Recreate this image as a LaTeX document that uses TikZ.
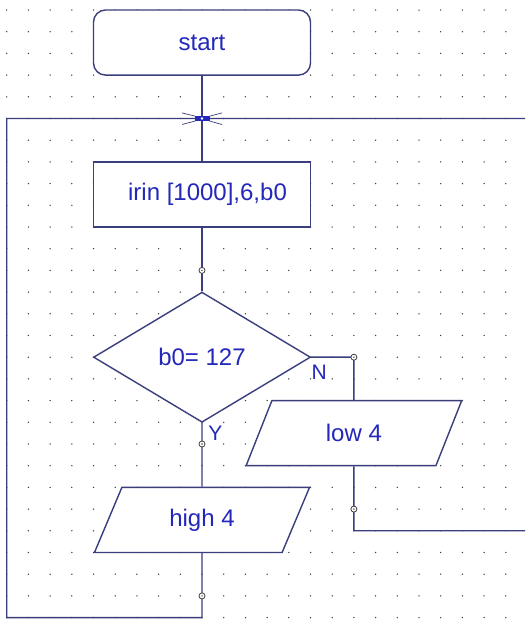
\documentclass[tikz,border=0pt]{standalone}
\usepackage{fontspec}
\setmainfont{Liberation Sans}
\usetikzlibrary{shapes.geometric}

\definecolor{flowline}{RGB}{58,62,124}
\definecolor{flowtext}{RGB}{36,40,185}
\definecolor{griddot}{RGB}{60,60,60}

\tikzset{
  flowshape/.style={draw=flowline,fill=white,line width=1.4pt,text=flowtext,
    inner sep=0pt,font=\fontsize{24}{28}\selectfont},
  startbox/.style={flowshape,rectangle,rounded corners=12pt,
    minimum width=217pt,minimum height=65.1pt},
  procbox/.style={flowshape,rectangle,minimum width=217pt,minimum height=65.1pt},
  testbox/.style={flowshape,diamond,minimum width=217pt,minimum height=130.2pt},
  iobox/.style={flowshape,trapezium,trapezium stretches=true,
    trapezium left angle=63.43,trapezium right angle=116.57,
    minimum width=217pt,minimum height=65.1pt},
  joint/.style={circle,draw=black!75,fill=white,line width=0.8pt,
    minimum size=6pt,inner sep=0pt},
  branch/.style={text=flowtext,inner sep=0pt,font=\fontsize{21}{24}\selectfont},
  flow/.style={draw=flowline,line width=1.4pt},
}

\begin{document}
\begin{tikzpicture}[%
  x=21.7pt,
  y=-21.7pt,
  % grid step 21.7pt, y downwards
]

  \useasboundingbox[fill=white] (-0.309,-0.461) rectangle (23.885,28.065);

  % dot grid
  \foreach \i in {0,...,23}
    \foreach \j in {0,...,28}
      \fill[griddot] (\i,\j) circle (0.75pt);

  \coordinate (junc) at (9,5);
  \coordinate (toprt) at (23.885,5);
  \coordinate (toplt) at (0,5);
  \coordinate (botlt) at (0,28);
  \coordinate (botmid) at (9,28);
  \coordinate (nturn) at (16,16);
  \coordinate (lowend) at (16,24);
  \coordinate (rtend) at (23.885,24);

  \node[startbox] (start) at (9,1.5) {start};
  \node[procbox] (irin) at (9,8.5) {\hspace*{11pt}irin [1000],6,b0};
  \node[testbox] (test) at (9,16) {b0= 127};
  \node[iobox] (low) at (16,19.5) {low 4};
  \node[iobox] (high) at (9,23.5) {high 4};

  \draw[flow] (start.south) -- (irin.north);
  \draw[flow] (irin.south) -- (test.north);
  \draw[flow] (test.east) -- (nturn) -- (low.north);
  \draw[flow] (low.south) -- (lowend) -- (rtend);
  \draw[flow] (test.south) -- (high.north);
  \draw[flow] (high.south) -- (botmid) -- (botlt) -- (toplt) -- (toprt);

  \node[branch] (nlab) at (14.4,16.7) {N};
  \node[branch] (ylab) at (9.62,19.5) {Y};

  \node[joint] (j1) at (9,12) {};
  \node[joint] (j2) at (nturn) {};
  \node[joint] (j3) at (9,20) {};
  \node[joint] (j4) at (16,23) {};
  \node[joint] (j5) at (9,27) {};
  \foreach \p in {j1,j2,j3,j4,j5}
    \fill[black!75] (\p) circle (0.8pt);

  % crossing mark
  \begin{scope}[shift={(junc)}]
    \draw[flowline,line width=0.7pt] (-20pt,5.6pt) -- (-6.7pt,2.3pt);
    \draw[flowline,line width=0.7pt] (-20pt,-6pt) -- (-6.7pt,-2.5pt);
    \draw[flowline,line width=0.7pt] (7.5pt,2.3pt) -- (20pt,5.6pt);
    \draw[flowline,line width=0.7pt] (7.5pt,-2.5pt) -- (20pt,-6pt);
    \fill[flowtext] (-7pt,-2.5pt) rectangle (7.5pt,2.5pt);
    \fill[white] (0pt,0pt) circle (1.4pt);
  \end{scope}

\end{tikzpicture}
\end{document}
